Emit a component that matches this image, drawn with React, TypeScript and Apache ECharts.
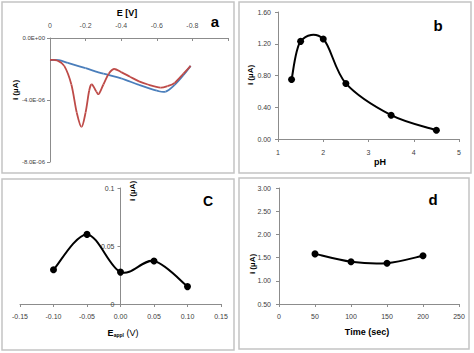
import React, { useEffect, useRef } from "react";
import * as echarts from "echarts";

// Panel a: voltammograms (E in V, i in A)
const aE = [0, -0.05, -0.1, -0.2, -0.3, -0.4, -0.5, -0.6, -0.65, -0.7, -0.75, -0.79];
const aBlue = [-1.42e-6, -1.43e-6, -1.6e-6, -1.95e-6, -2.3e-6, -2.6e-6, -3.03e-6, -3.4e-6, -3.46e-6, -3.03e-6, -2.39e-6, -1.8e-6];
const aRedE = [0, -0.04, -0.08, -0.12, -0.15, -0.177, -0.2, -0.22, -0.235, -0.26, -0.275, -0.3, -0.33, -0.36, -0.4, -0.45, -0.5, -0.55, -0.62, -0.66, -0.7, -0.75, -0.79];
const aRed = [-1.42e-6, -1.45e-6, -1.8e-6, -3.0e-6, -4.8e-6, -5.74e-6, -4.8e-6, -3.4e-6, -3.0e-6, -3.45e-6, -3.6e-6, -3.0e-6, -2.3e-6, -2.0e-6, -2.2e-6, -2.5e-6, -2.8e-6, -3.0e-6, -3.2e-6, -3.1e-6, -2.9e-6, -2.3e-6, -1.8e-6];

// Panel b: pH
const bPH = [1.3, 1.5, 2.0, 2.5, 3.5, 4.5];
const bI = [0.75, 1.23, 1.26, 0.7, 0.3, 0.11];

// Panel c: applied potential
const cE = [-0.1, -0.05, 0, 0.05, 0.1];
const cI = [0.0295, 0.06, 0.0275, 0.037, 0.015];

// Panel d: time
const dT = [50, 100, 150, 200];
const dI = [1.58, 1.41, 1.38, 1.54];

const FONT = "Liberation Sans";
const AXIS_COLOR = "#8c8c8c";
const LABEL_COLOR = "#404040";

const sciFmt = (v: number) => {
  if (v === 0) return "0.0E+00";
  const exp = Math.floor(Math.log10(Math.abs(v)));
  const mant = v / Math.pow(10, exp);
  const es = (exp < 0 ? "-" : "+") + String(Math.abs(exp)).padStart(2, "0");
  return mant.toFixed(1) + "E" + es;
};

const lbl = (extra: any = {}) => ({ fontSize: 7, color: LABEL_COLOR, fontFamily: FONT, ...extra });

const axisBase = (extra: any = {}) => ({
  type: "value",
  splitLine: { show: false },
  axisLine: { show: true, lineStyle: { color: AXIS_COLOR, width: 1 } },
  axisTick: { show: true, length: 3, lineStyle: { color: AXIS_COLOR } },
  axisLabel: lbl(),
  ...extra,
});

const pairs = (xs: number[], ys: number[]) => xs.map((x, i) => [x, ys[i]]);

// Smoothed curve (Catmull-Rom -> cubic Bezier) drawn through the axis scales
const smoothCurve = (data: number[][], xi: number, color: string, width: number) => ({
  type: "custom",
  xAxisIndex: xi,
  yAxisIndex: xi,
  data,
  silent: true,
  z: 2,
  renderItem: (params: any, api: any) => {
    const i = params.dataIndex;
    if (i >= data.length - 1) return null;
    const P = (k: number) => api.coord(data[Math.max(0, Math.min(data.length - 1, k))]);
    const p0 = P(i - 1), p1 = P(i), p2 = P(i + 1), p3 = P(i + 2);
    return {
      type: "bezierCurve",
      shape: {
        x1: p1[0],
        y1: p1[1],
        x2: p2[0],
        y2: p2[1],
        cpx1: p1[0] + (p2[0] - p0[0]) / 6,
        cpy1: p1[1] + (p2[1] - p0[1]) / 6,
        cpx2: p2[0] - (p3[0] - p1[0]) / 6,
        cpy2: p2[1] - (p3[1] - p1[1]) / 6,
      },
      style: { stroke: color, lineWidth: width, fill: "none" },
    };
  },
});

const markers = (data: number[][], xi: number) => ({
  type: "scatter",
  xAxisIndex: xi,
  yAxisIndex: xi,
  data,
  symbol: "circle",
  symbolSize: 7,
  z: 3,
  itemStyle: { color: "#000", opacity: 1 },
});

export default function App() {
  const ref = useRef<HTMLDivElement>(null);
  useEffect(() => {
    if (!ref.current) return;
    const chart = echarts.init(ref.current, null, { renderer: "svg" });
    const border = (x: number, y: number, w: number, h: number) => ({
      type: "rect",
      shape: { x, y, width: w, height: h },
      style: { fill: "none", stroke: "#c4c4c4", lineWidth: 1.5 },
      silent: true,
    });
    const txt = (x: number, y: number, text: string, size: number, rot = 0, extra: any = {}) => ({
      type: "text",
      x,
      y,
      rotation: rot,
      style: {
        text,
        fontSize: size,
        fontWeight: "bold",
        fontFamily: FONT,
        fill: "#000",
        align: "center",
        verticalAlign: "middle",
        ...extra,
      },
    });
    const bData = pairs(bPH, bI);
    const cData = pairs(cE, cI);
    const dData = pairs(dT, dI);
    const option: any = {
      animation: false,
      backgroundColor: "#ffffff",
      textStyle: { color: LABEL_COLOR, fontFamily: FONT },
      grid: [
        { left: 50, top: 38, width: 178, height: 124 },
        { left: 278, top: 12, width: 181, height: 127 },
        { left: 20, top: 188, width: 201, height: 116 },
        { left: 279, top: 188, width: 180, height: 116 },
      ],
      xAxis: [
        axisBase({
          gridIndex: 0,
          position: "top",
          min: -1,
          max: 0,
          interval: 0.2,
          inverse: true,
          axisTick: { show: true, inside: true, length: 3, lineStyle: { color: AXIS_COLOR } },
          axisLabel: {
            fontSize: 7,
            color: "#000000",
            fontFamily: FONT,
            fontWeight: "normal",
            opacity: 0.75,
            margin: 9,
            formatter: (v: number) => (Math.abs(v + 1) < 1e-9 ? "" : v === 0 ? "0" : String(+v.toFixed(1))),
          },
        }),
        axisBase({
          gridIndex: 1,
          min: 1,
          max: 5,
          interval: 1,
          axisLabel: lbl({ margin: 10 }),
        }),
        axisBase({
          gridIndex: 2,
          min: -0.15,
          max: 0.15,
          interval: 0.05,
          axisLabel: lbl({
            margin: 9,
            formatter: (v: number) => (Math.abs(v) < 1e-9 ? "0.00" : v.toFixed(2)),
          }),
        }),
        axisBase({
          gridIndex: 3,
          min: 0,
          max: 250,
          interval: 50,
          axisLabel: lbl({ margin: 9 }),
        }),
      ],
      yAxis: [
        axisBase({
          gridIndex: 0,
          min: -8e-6,
          max: 0,
          interval: 4e-6,
          axisLabel: lbl({ fontSize: 6, margin: 5, formatter: sciFmt }),
        }),
        axisBase({
          gridIndex: 1,
          min: 0,
          max: 1.6,
          interval: 0.4,
          axisLabel: lbl({ margin: 7, formatter: (v: number) => v.toFixed(2) }),
        }),
        axisBase({
          gridIndex: 2,
          min: 0,
          max: 0.1,
          interval: 0.05,
          offset: -100.5,
          axisLine: { show: true, onZero: false, lineStyle: { color: AXIS_COLOR, width: 1 } },
          axisTick: { show: true, length: 3, lineStyle: { color: AXIS_COLOR } },
          axisLabel: lbl({ margin: 6, formatter: (v: number) => String(+v.toFixed(2)) }),
        }),
        axisBase({
          gridIndex: 3,
          min: 0.5,
          max: 3,
          interval: 0.5,
          axisLabel: lbl({ margin: 8, formatter: (v: number) => v.toFixed(2) }),
        }),
      ],
      series: [
        smoothCurve(pairs(aE, aBlue), 0, "#4a7ebb", 1.8),
        smoothCurve(pairs(aRedE, aRed), 0, "#be4b48", 1.8),
        smoothCurve(bData, 1, "#000", 2),
        markers(bData, 1),
        smoothCurve(cData, 2, "#000", 2),
        markers(cData, 2),
        smoothCurve(dData, 3, "#000", 2),
        markers(dData, 3),
      ],
      graphic: [
        border(2, 2, 232, 171),
        border(239, 2, 232, 171),
        border(2, 179, 232, 171),
        border(239, 178, 230, 171),
        txt(127, 13, "E [V]", 9),
        txt(15, 90, "i (µA)", 8, Math.PI / 2),
        txt(215, 21, "a", 15),
        txt(380, 162, "pH", 9),
        txt(250, 75, "i (µA)", 8, Math.PI / 2),
        txt(438, 25, "b", 15),
        {
          type: "text",
          x: 123,
          y: 333,
          style: {
            text: "{b|E}{s|appl}{n| (V)}",
            align: "center",
            verticalAlign: "middle",
            rich: {
              b: { fontSize: 9, fontWeight: "bold", fontFamily: FONT, fill: "#000" },
              s: { fontSize: 5, fontWeight: "bold", fontFamily: FONT, fill: "#000", verticalAlign: "bottom", padding: [4, 0, 0, 0] },
              n: { fontSize: 9, fontFamily: FONT, fill: "#000" },
            },
          },
        },
        txt(132, 191, "i (µA)", 8, Math.PI / 2),
        txt(208, 201, "C", 14),
        txt(367, 332, "Time (sec)", 9),
        txt(252, 264, "i (µA)", 8, Math.PI / 2),
        txt(433, 199, "d", 15),
      ],
    };
    chart.setOption(option);
    return () => chart.dispose();
  }, []);
  return (
    <div
      ref={ref}
      style={{ position: "fixed", left: 0, top: 0, width: 474, height: 353, background: "#fff" }}
    />
  );
}
